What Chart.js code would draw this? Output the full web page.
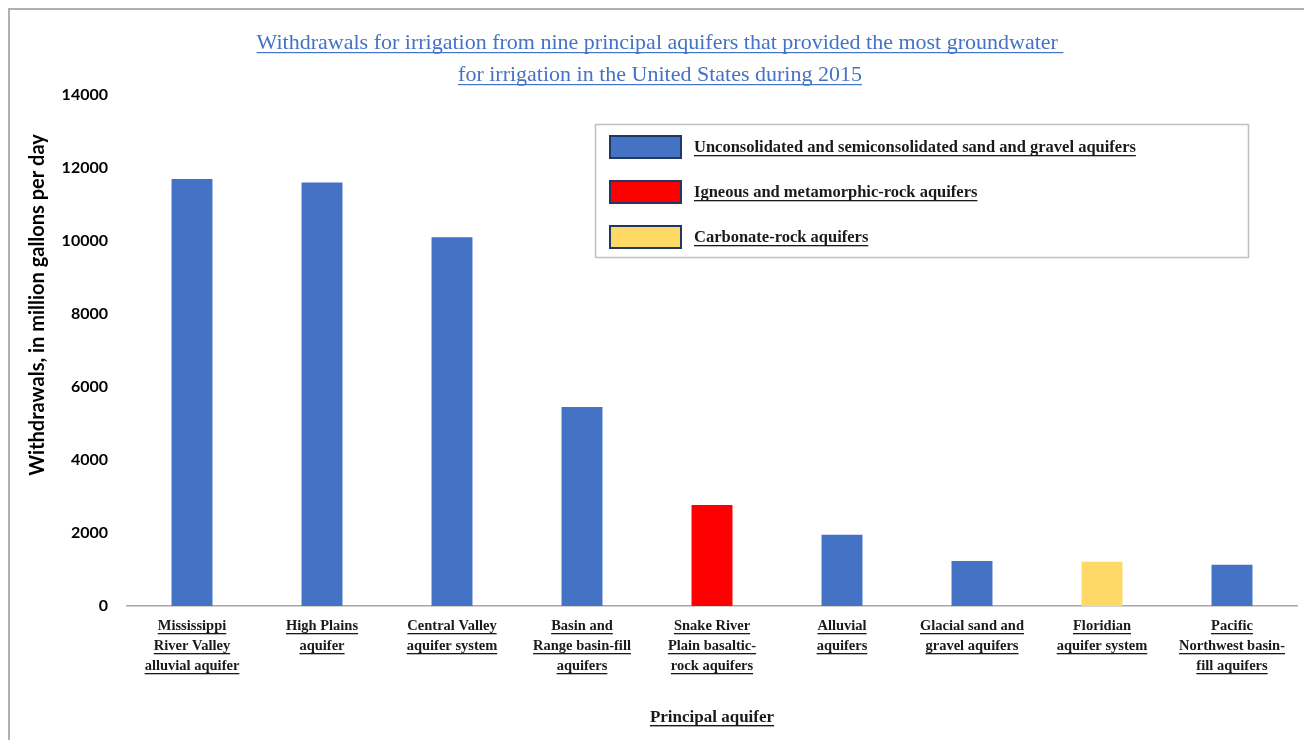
<!DOCTYPE html>
<html>
<head>
<meta charset="utf-8">
<title>Irrigation withdrawals by principal aquifer, 2015</title>
<script src="https://cdn.jsdelivr.net/npm/chart.js"></script>
<style>
    html, body { margin: 0; padding: 0; background: #fff; }
    #wrap { position: relative; width: 1304px; height: 740px; }
</style>
</head>
<body>
<div id="wrap"><canvas id="aquiferChart" width="1304" height="740"></canvas></div>
<script>
    // Aquifer names, split into the lines shown under each bar
    const aquiferLabels = [
        ['Mississippi', 'River Valley', 'alluvial aquifer'],
        ['High Plains', 'aquifer'],
        ['Central Valley', 'aquifer system'],
        ['Basin and', 'Range basin-fill', 'aquifers'],
        ['Snake River', 'Plain basaltic-', 'rock aquifers'],
        ['Alluvial', 'aquifers'],
        ['Glacial sand and', 'gravel aquifers'],
        ['Floridian', 'aquifer system'],
        ['Pacific', 'Northwest basin-', 'fill aquifers']
    ];
    // Withdrawals, million gallons per day
    const withdrawals = [11700, 11600, 10100, 5450, 2770, 1950, 1230, 1210, 1130];
    // Rock type of each aquifer (index into groupNames)
    const aquiferGroup = [0, 0, 0, 0, 1, 0, 0, 2, 0];

    const groupNames = [
        'Unconsolidated and semiconsolidated sand and gravel aquifers',
        'Igneous and metamorphic-rock aquifers',
        'Carbonate-rock aquifers'
    ];
    const groupColors = ['#4472C4', '#FF0000', '#FFD966'];

    const yTicks = [0, 2000, 4000, 6000, 8000, 10000, 12000, 14000];

    const titleLines = [
        'Withdrawals for irrigation from nine principal aquifers that provided the most groundwater ',
        'for irrigation in the United States during 2015'
    ];
    const yTitle = 'Withdrawals, in million gallons per day';
    const xTitle = 'Principal aquifer';

    const serif = '"Liberation Serif", "Times New Roman", serif';
    const sans = 'Lato, "Open Sans", sans-serif';

    // fillText plus a rule under it, the width of the text
    function underlinedText(ctx, text, x, y, align, thick) {
        ctx.textAlign = align;
        ctx.textBaseline = 'alphabetic';
        ctx.fillText(text, x, y);
        const w = ctx.measureText(text).width;
        let x0 = x;
        if (align === 'center') x0 = x - w / 2;
        if (align === 'right') x0 = x - w;
        ctx.fillRect(x0, y + 3, w, thick || 1.2);
    }

    const decorations = {
        id: 'decorations',
        afterDraw(chart) {
            const ctx = chart.ctx;
            const area = chart.chartArea;
            const xScale = chart.scales.x;
            ctx.save();

            // outer frame
            ctx.strokeStyle = '#B0B0B0';
            ctx.lineWidth = 2;
            ctx.beginPath();
            ctx.moveTo(9, 760);
            ctx.lineTo(9, 9);
            ctx.lineTo(1320, 9);
            ctx.stroke();

            // title
            ctx.fillStyle = '#4472C4';
            ctx.font = '22px ' + serif;
            titleLines.forEach((line, i) => {
                underlinedText(ctx, line, 660, 49 + i * 32, 'center', 1.2);
            });

            // category labels under the axis
            ctx.fillStyle = '#1a1a1a';
            ctx.font = 'bold 14.5px ' + serif;
            aquiferLabels.forEach((lines, i) => {
                const x = xScale.getPixelForValue(i);
                lines.forEach((line, j) => {
                    underlinedText(ctx, line, x, area.bottom + 24 + j * 20, 'center', 1.3);
                });
            });

            // x axis title
            ctx.font = 'bold 17px ' + serif;
            underlinedText(ctx, xTitle, (area.left + area.right) / 2, 722, 'center', 1.4);

            // y axis title
            ctx.save();
            ctx.translate(38, 305);
            ctx.rotate(-Math.PI / 2);
            ctx.fillStyle = '#000';
            ctx.font = 'bold 20px ' + sans;
            ctx.textAlign = 'center';
            ctx.textBaseline = 'middle';
            ctx.fillText(yTitle, 0, 0);
            ctx.restore();

            // legend box
            ctx.strokeStyle = '#BFBFBF';
            ctx.lineWidth = 1.5;
            ctx.strokeRect(595.5, 124.5, 653, 133);
            ctx.font = 'bold 16.5px ' + serif;
            groupNames.forEach((name, i) => {
                const cy = 147 + i * 45;
                ctx.fillStyle = groupColors[i];
                ctx.fillRect(610, cy - 11, 71, 22);
                ctx.strokeStyle = '#1F3864';
                ctx.lineWidth = 2;
                ctx.strokeRect(610, cy - 11, 71, 22);
                ctx.fillStyle = '#1a1a1a';
                underlinedText(ctx, name, 694, cy + 5, 'left', 1.3);
            });

            ctx.restore();
        }
    };

    const chart = new Chart(document.getElementById('aquiferChart').getContext('2d'), {
        type: 'bar',
        data: {
            labels: aquiferLabels.map(l => l.join(' ')),
            datasets: [{
                data: withdrawals,
                backgroundColor: aquiferGroup.map(g => groupColors[g]),
                borderWidth: 0,
                barPercentage: 0.315,
                categoryPercentage: 1
            }]
        },
        options: {
            responsive: false,
            animation: false,
            layout: { padding: { top: 95, left: 0, right: 7, bottom: 0 } },
            plugins: {
                legend: { display: false },
                title: { display: false },
                tooltip: { enabled: false }
            },
            scales: {
                x: {
                    grid: { display: false },
                    border: { display: true, color: '#A6A6A6', width: 1.5 },
                    ticks: { display: false },
                    afterFit(scale) { scale.height = 134; }
                },
                y: {
                    min: 0,
                    max: 14000,
                    afterBuildTicks(scale) { scale.ticks = yTicks.map(v => ({ value: v })); },
                    grid: { display: false, drawTicks: false },
                    border: { display: false },
                    ticks: {
                        padding: 19,
                        color: '#000',
                        font: { family: sans, size: 16, weight: 'bold' },
                        callback: v => String(v)
                    },
                    afterFit(scale) { scale.width = 127; }
                }
            }
        },
        plugins: [decorations]
    });
</script>
</body>
</html>
